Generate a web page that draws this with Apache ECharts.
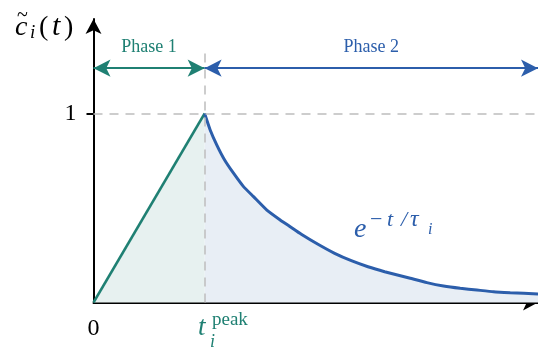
<!DOCTYPE html>
<html>
<head>
    <meta charset="utf-8">
    <title></title>
    <script src="https://cdn.jsdelivr.net/npm/echarts@6/dist/echarts.min.js"></script>
    <style type="text/css">
        html, body {
            margin: 0;
            padding: 0;
            background: #fff;
        }
    </style>
</head>
<body>
    <div id="main" style="width: 538px; height: 348px;"></div>
    <script type="text/javascript">
        // values
        var riseT = [0, 1];
        var riseV = [0, 1];
        var decayT = [1, 1.05, 1.11, 1.18, 1.26, 1.35, 1.44, 1.56, 1.68, 1.77, 1.87, 2.02, 2.17, 2.32,
                      2.47, 2.62, 2.85, 3.0, 3.15, 3.3, 3.45, 3.6, 3.75, 4];
        var decayV = [1, 0.913, 0.833, 0.754, 0.684, 0.613, 0.56, 0.489, 0.437, 0.401, 0.361, 0.308, 0.26, 0.221,
                      0.189, 0.163, 0.128, 0.105, 0.087, 0.075, 0.066, 0.057, 0.052, 0.045];
        var phaseY = 1.24;
        var peakT = 1;
        var xMax = 4;
        var yMax = 1.5;

        var teal = '#1f8073';
        var blue = '#2c5eab';
        var serif = "'Liberation Serif', serif";

        function pairs(xs, ys) {
            return xs.map(function (x, i) { return [x, ys[i]]; });
        }

        // little helper for the math bits drawn as plain text
        function txt(s, x, y, size, color, italic) {
            return {
                type: 'text',
                style: {
                    text: s, x: x, y: y,
                    textVerticalAlign: 'bottom',
                    font: (italic ? 'italic ' : '') + size + 'px ' + serif,
                    fill: color
                }
            };
        }

        var myChart = echarts.init(document.getElementById('main'));

        var option = {
            animation: false,
            grid: { left: 93.5, right: 0, top: 19, bottom: 45.5, containLabel: false, outerBoundsMode: 'none' },
            xAxis: {
                type: 'value',
                min: 0,
                max: xMax,
                interval: 1,
                splitLine: { show: false },
                axisLine: {
                    lineStyle: { color: '#000', width: 2 },
                    symbol: ['none', 'arrow'],
                    symbolSize: [12, 15]
                },
                axisTick: { show: false },
                axisLabel: {
                    customValues: [0, xMax],
                    margin: 14,
                    alignMaxLabel: 'center',
                    fontFamily: serif,
                    fontSize: 24,
                    color: '#000',
                    formatter: function (v) { return v === 0 ? '0' : '{it|t}'; },
                    rich: { it: { fontFamily: serif, fontStyle: 'italic', fontSize: 24, color: '#000', padding: [0, 0, 0, 14] } }
                }
            },
            yAxis: {
                type: 'value',
                min: 0,
                max: yMax,
                interval: 0.5,
                splitLine: { show: false },
                axisLine: {
                    lineStyle: { color: '#000', width: 2 },
                    symbol: ['none', 'arrow'],
                    symbolSize: [12, 15]
                },
                axisTick: {
                    customValues: [1],
                    length: 7,
                    lineStyle: { color: '#000', width: 2 }
                },
                axisLabel: {
                    customValues: [1],
                    margin: 17,
                    fontFamily: serif,
                    fontSize: 24,
                    color: '#000'
                }
            },
            series: [
                {
                    type: 'line',
                    data: pairs(riseT, riseV),
                    symbol: 'none',
                    lineStyle: { color: teal, width: 2.5 },
                    areaStyle: { color: '#e7f1f0', opacity: 1 },
                    z: 3
                },
                {
                    type: 'line',
                    data: pairs(decayT, decayV),
                    symbol: 'none',
                    smooth: 0.15,
                    lineStyle: { color: blue, width: 3 },
                    areaStyle: { color: '#e8eef5', opacity: 1 },
                    z: 3
                },
                {
                    // dashed guides
                    type: 'line',
                    data: [],
                    markLine: {
                        silent: true,
                        symbol: 'none',
                        label: { show: false },
                        lineStyle: { color: '#bdbdbd', type: [9, 7], width: 1.5 },
                        data: [
                            [{ coord: [0, 1] }, { coord: [xMax, 1] }],
                            [{ coord: [peakT, 0] }, { coord: [peakT, 1.34] }]
                        ]
                    },
                    z: 4
                },
                {
                    // phase arrows
                    type: 'line',
                    data: [],
                    markLine: {
                        silent: true,
                        symbol: ['arrow', 'arrow'],
                        symbolSize: [13, 17],
                        label: {
                            show: true,
                            position: 'middle',
                            distance: 12,
                            fontFamily: serif,
                            fontSize: 18
                        },
                        data: [
                            [{ coord: [0, phaseY], lineStyle: { color: teal, width: 2, type: 'solid' }, label: { formatter: 'Phase 1', color: teal } },
                             { coord: [peakT, phaseY] }],
                            [{ coord: [peakT, phaseY], lineStyle: { color: blue, width: 2, type: 'solid' }, label: { formatter: 'Phase 2', color: blue } },
                             { coord: [xMax, phaseY] }]
                        ]
                    },
                    z: 5
                }
            ],
            graphic: [
                // y axis name  c~_i(t)
                txt('c', 15, 42, 28, '#000', true),
                txt('~', 17, 26, 20, '#000', false),
                txt('i', 30, 42, 19, '#000', true),
                txt('(', 39, 42, 28, '#000', false),
                txt('t', 52, 42, 30, '#000', true),
                txt(')', 64, 42, 28, '#000', false),
                // t_i^peak
                txt('t', 198, 341, 27, teal, true),
                txt('peak', 212, 330, 19, teal, false),
                txt('i', 210, 351, 18, teal, true),
                // e^{-t/tau_i}
                txt('e', 354, 244, 28, blue, true),
                txt('\u2212', 370, 231, 22, blue, false),
                txt('t', 387, 231, 22, blue, true),
                txt('/', 401, 231, 22, blue, true),
                txt('\u03c4', 410, 232, 24, blue, true),
                txt('i', 428, 238, 16, blue, true)
            ]
        };
        myChart.setOption(option);
    </script>
</body>
</html>
